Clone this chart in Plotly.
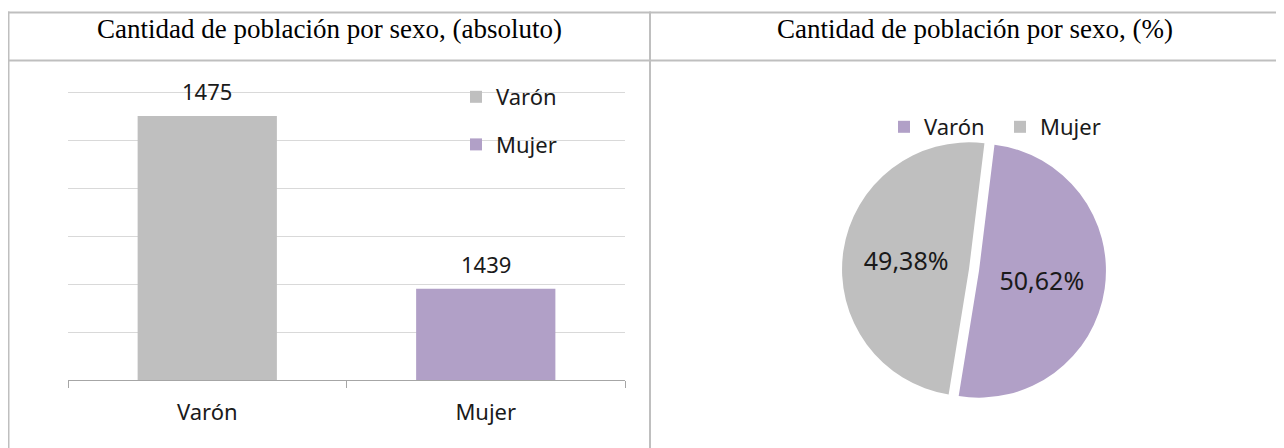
import plotly.graph_objects as go

# ---- data ----
categories = ["Varón", "Mujer"]
counts = [1475, 1439]
bar_colors = ["#BFBFBF", "#B1A0C7"]
pie_colors = ["#B1A0C7", "#BFBFBF"]
title_left = "Cantidad de población por sexo, (absoluto)"
title_right = "Cantidad de población por sexo, (%)"

# page is offset by the default 8px body margin
OFF = 8
W, H = 1284 - OFF, 448 - OFF
def px(x):
    return (x - OFF) / W
def py(y):
    return 1 - (y - OFF) / H

SANS = "Noto Sans, DejaVu Sans, sans-serif"
SERIF = "Liberation Serif, Times New Roman, serif"
TXT = "#1a1a1a"
FS = 22

fig = go.Figure()

for cat, val, col in zip(categories, counts, bar_colors):
    fig.add_trace(go.Bar(
        x=[cat], y=[val], name=cat, marker=dict(color=col, line=dict(width=0)),
        legendgroup=cat, legend="legend", hoverinfo="x+y",
    ))

fig.add_trace(go.Pie(
    labels=categories, values=counts,
    marker=dict(colors=pie_colors, line=dict(width=0)),
    sort=False, direction="clockwise", rotation=7,
    pull=[0.04, 0.04],
    texttemplate="%{percent:.2%}", textposition="inside",
    insidetextorientation="horizontal",
    textfont=dict(family=SANS, size=25, color=TXT),
    domain=dict(x=[px(842), px(1106)], y=[py(402), py(138)]),
    legend="legend2", showlegend=True,
))

annotations = []
for cat, val in zip(categories, counts):
    annotations.append(dict(
        x=cat, y=val, xref="x", yref="y", text=str(val), showarrow=False,
        yanchor="bottom", yshift=8,
        font=dict(family=SANS, size=FS, color=TXT),
    ))
annotations.append(dict(x=px(329), y=py(29), xref="paper", yref="paper",
                        text=title_left, showarrow=False, xanchor="center", yanchor="middle",
                        font=dict(family=SERIF, size=27, color="#000")))
annotations.append(dict(x=px(975), y=py(29), xref="paper", yref="paper",
                        text=title_right, showarrow=False, xanchor="center", yanchor="middle",
                        font=dict(family=SERIF, size=27, color="#000")))

border = "#BFBFBF"
shapes = [
    dict(type="line", xref="paper", yref="paper", x0=0, x1=1, y0=py(12.5), y1=py(12.5),
         line=dict(color=border, width=2)),
    dict(type="line", xref="paper", yref="paper", x0=0, x1=1, y0=py(60.5), y1=py(60.5),
         line=dict(color=border, width=2)),
    dict(type="line", xref="paper", yref="paper", x0=0.5 / W, x1=0.5 / W, y0=py(11.5), y1=0,
         line=dict(color=border, width=2)),
    dict(type="line", xref="paper", yref="paper", x0=px(650), x1=px(650), y0=py(11.5), y1=0,
         line=dict(color=border, width=2)),
]

fig.update_layout(
    width=W, height=H, autosize=False,
    margin=dict(l=0, r=0, t=0, b=0),
    paper_bgcolor="white", plot_bgcolor="white",
    separators=",.",
    barmode="overlay", bargap=0.5,
    xaxis=dict(domain=[px(68), px(625)], type="category",
               categoryorder="array", categoryarray=categories,
               showline=True, linecolor="#A6A6A6", linewidth=1,
               ticks="outside", tickson="boundaries", ticklen=7, tickcolor="#A6A6A6",
               tickfont=dict(family=SANS, size=FS, color=TXT),
               ticklabelstandoff=13, showgrid=False, fixedrange=True),
    yaxis=dict(domain=[py(380), py(89.6)], range=[1420, 1480.5], dtick=10, tick0=1420,
               showgrid=True, gridcolor="#D9D9D9", gridwidth=1,
               showticklabels=False, zeroline=False, showline=False, fixedrange=True),
    legend=dict(x=px(456), y=py(76), xanchor="left", yanchor="top",
                orientation="v", traceorder="grouped", tracegroupgap=16,
                itemwidth=30, bgcolor="rgba(0,0,0,0)",
                font=dict(family=SANS, size=FS, color=TXT)),
    legend2=dict(x=px(884), y=py(127), xanchor="left", yanchor="middle",
                 orientation="h", itemwidth=30, bgcolor="rgba(0,0,0,0)",
                 entrywidth=71, entrywidthmode="pixels",
                 font=dict(family=SANS, size=22, color=TXT)),
    annotations=annotations,
    shapes=shapes,
)

fig.write_html("out.html")
